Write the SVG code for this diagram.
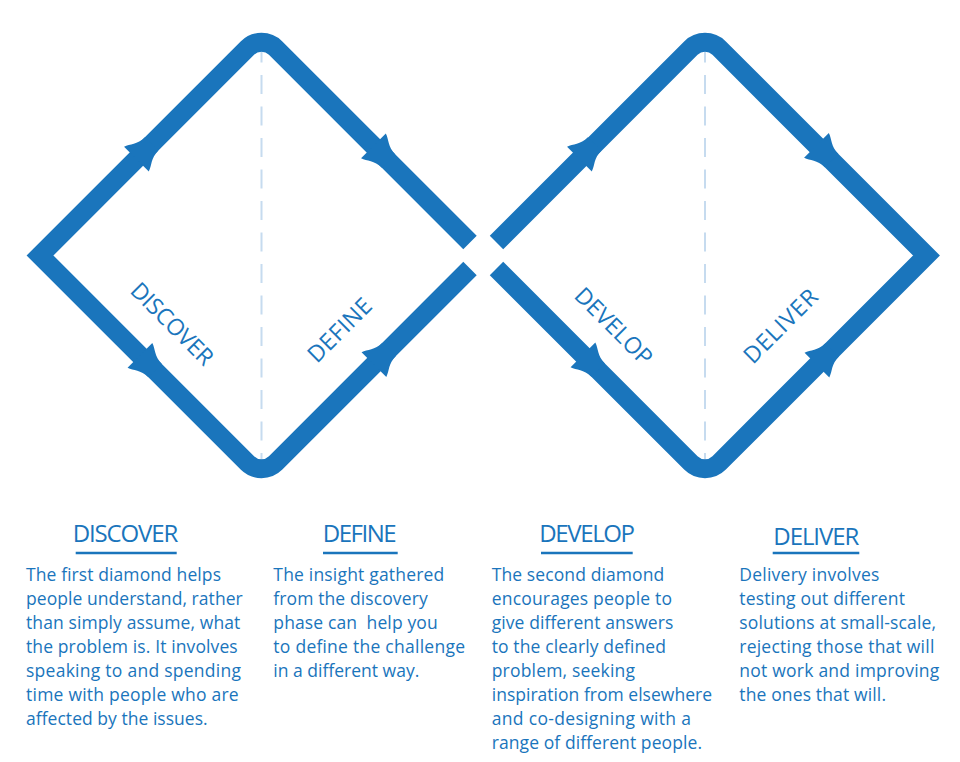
<svg xmlns="http://www.w3.org/2000/svg" xmlns:xlink="http://www.w3.org/1999/xlink" width="960" height="762" viewBox="0 0 960 762">
  <style>
    .dash { stroke: #c6dbef; stroke-width: 2; stroke-dasharray: 19 12.5; fill: none; }
    .track { stroke: #1a75bc; stroke-width: 19; fill: none; stroke-linejoin: miter; stroke-linecap: butt; }
    .head { fill: #1a75bc; }
    .lbl { font-family: "Open Sans", "Noto Sans", sans-serif; font-size: 23px; fill: #1a75bc; }
    .h { font-family: "Open Sans", "Noto Sans", sans-serif; font-size: 24px; fill: #1a75bc; }
    .b { font-family: "Open Sans", "Noto Sans", sans-serif; font-size: 17.5px; fill: #1a75bc; }
    .ul { stroke: #1a75bc; stroke-width: 2.3; }
  </style>
  <defs>
    <path id="ah" d="M -1.5,-17.5 C 5,-15.5 9,-9.5 20,-9.5 L 20,9.5 C 9,9.5 5,15.5 -1.5,17.5 Z"/>
  </defs>
  <rect width="960" height="762" fill="#ffffff"/>

  <g id="guides">
    <line class="dash" x1="261.5" y1="43.5" x2="261.5" y2="462"/>
    <line class="dash" x1="705" y1="43.5" x2="705" y2="462"/>
  </g>

  <g id="connectors">
    <path id="diamond-1" class="track" d="M 470,268.5 L 275.64,462.86 A 20 20 0 0 1 247.36,462.86 L 40,255.5 L 247.36,48.14 A 20 20 0 0 1 275.64,48.14 L 470,242.5"/>
    <path id="diamond-2" class="track" d="M 496.5,242.5 L 690.86,48.14 A 20 20 0 0 1 719.14,48.14 L 926.5,255.5 L 719.14,462.86 A 20 20 0 0 1 690.86,462.86 L 496.5,268.5"/>
    <use href="#ah" class="head" transform="translate(137.5,158) rotate(-45)"/>
    <use href="#ah" class="head" transform="translate(374.5,147) rotate(45)"/>
    <use href="#ah" class="head" transform="translate(141,356.5) rotate(45)"/>
    <use href="#ah" class="head" transform="translate(375,363.5) rotate(-45)"/>
    <use href="#ah" class="head" transform="translate(580.5,158) rotate(-45)"/>
    <use href="#ah" class="head" transform="translate(817.5,146.5) rotate(45)"/>
    <use href="#ah" class="head" transform="translate(584,356) rotate(45)"/>
    <use href="#ah" class="head" transform="translate(818,364) rotate(-45)"/>
  </g>

  <g id="phase-labels">
    <text class="lbl" transform="translate(129,292) rotate(45)" textLength="106" lengthAdjust="spacing">DISCOVER</text>
    <text class="lbl" transform="translate(317,364) rotate(-45)" textLength="80" lengthAdjust="spacing">DEFINE</text>
    <text class="lbl" transform="translate(573,297) rotate(45)" textLength="99" lengthAdjust="spacing">DEVELOP</text>
    <text class="lbl" transform="translate(753,365) rotate(-45)" textLength="94" lengthAdjust="spacing">DELIVER</text>
  </g>

  <g id="discover">
    <text class="h" x="72.7" y="542" textLength="105.6" lengthAdjust="spacing">DISCOVER</text>
    <line class="ul" x1="75.7" y1="553" x2="176.7" y2="553"/>
    <text class="b" x="26" y="581" textLength="195" lengthAdjust="spacing">The first diamond helps</text>
    <text class="b" x="26" y="605" textLength="216.7" lengthAdjust="spacing">people understand, rather</text>
    <text class="b" x="26" y="629" textLength="214.3" lengthAdjust="spacing">than simply assume, what</text>
    <text class="b" x="26" y="653" textLength="211.7" lengthAdjust="spacing">the problem is. It involves</text>
    <text class="b" x="26" y="677" textLength="215" lengthAdjust="spacing">speaking to and spending</text>
    <text class="b" x="26" y="701" textLength="212.7" lengthAdjust="spacing">time with people who are</text>
    <text class="b" x="26" y="725" textLength="181.7" lengthAdjust="spacing">affected by the issues.</text>
  </g>

  <g id="define">
    <text class="h" x="322.7" y="542" textLength="74" lengthAdjust="spacing">DEFINE</text>
    <line class="ul" x1="323" y1="553" x2="397.7" y2="553"/>
    <text class="b" x="273.3" y="581" textLength="171" lengthAdjust="spacing">The insight gathered</text>
    <text class="b" x="273.3" y="605" textLength="154.4" lengthAdjust="spacing">from the discovery</text>
    <text class="b" x="273.3" y="629" textLength="164.4" lengthAdjust="spacing" xml:space="preserve">phase can  help you</text>
    <text class="b" x="273.3" y="653" textLength="191.7" lengthAdjust="spacing">to define the challenge</text>
    <text class="b" x="273.3" y="677" textLength="146" lengthAdjust="spacing">in a different way.</text>
  </g>

  <g id="develop">
    <text class="h" x="539.3" y="542" textLength="95.7" lengthAdjust="spacing">DEVELOP</text>
    <line class="ul" x1="541" y1="553" x2="632.7" y2="553"/>
    <text class="b" x="491.7" y="581" textLength="172.6" lengthAdjust="spacing">The second diamond</text>
    <text class="b" x="491.7" y="605" textLength="180.3" lengthAdjust="spacing">encourages people to</text>
    <text class="b" x="491.7" y="629" textLength="181.6" lengthAdjust="spacing">give different answers</text>
    <text class="b" x="491.7" y="653" textLength="174.3" lengthAdjust="spacing">to the clearly defined</text>
    <text class="b" x="491.7" y="677" textLength="143.3" lengthAdjust="spacing">problem, seeking</text>
    <text class="b" x="491.7" y="701" textLength="220.3" lengthAdjust="spacing">inspiration from elsewhere</text>
    <text class="b" x="491.7" y="725" textLength="199.3" lengthAdjust="spacing">and co-designing with a</text>
    <text class="b" x="491.7" y="749" textLength="210.3" lengthAdjust="spacing">range of different people.</text>
  </g>

  <g id="deliver">
    <text class="h" x="773.3" y="545" textLength="86" lengthAdjust="spacing">DELIVER</text>
    <line class="ul" x1="772.7" y1="553" x2="859.3" y2="553"/>
    <text class="b" x="739.3" y="581" textLength="140" lengthAdjust="spacing">Delivery involves</text>
    <text class="b" x="739.3" y="605" textLength="165.7" lengthAdjust="spacing">testing out different</text>
    <text class="b" x="739.3" y="629" textLength="196.7" lengthAdjust="spacing">solutions at small-scale,</text>
    <text class="b" x="739.3" y="653" textLength="195" lengthAdjust="spacing">rejecting those that will</text>
    <text class="b" x="739.3" y="677" textLength="200" lengthAdjust="spacing">not work and improving</text>
    <text class="b" x="739.3" y="701" textLength="146.7" lengthAdjust="spacing">the ones that will.</text>
  </g>
</svg>
